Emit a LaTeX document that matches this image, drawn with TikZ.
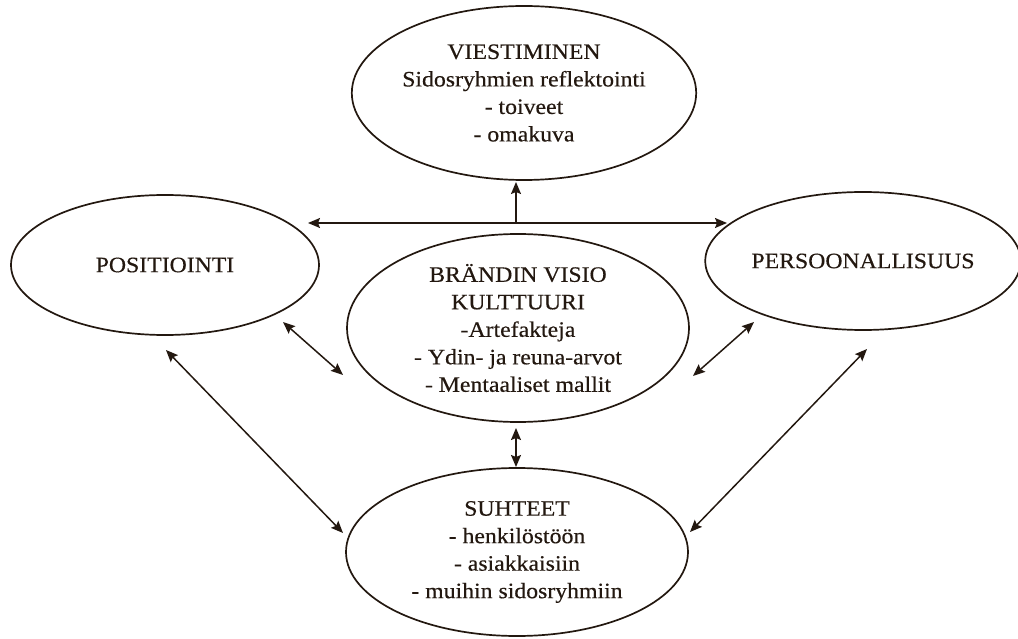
\documentclass[tikz,border=0pt]{standalone}
\usepackage{fontspec}
\setmainfont{Liberation Serif}[FakeStretch=1.08,FakeBold=0.4]
\usetikzlibrary{shapes.geometric,arrows.meta}
\definecolor{ink}{RGB}{35,24,16}

\begin{document}
\begin{tikzpicture}[x=1pt,y=-1pt,
  bubble/.style={draw=ink,line width=1.7pt,ellipse,inner sep=0pt,
    text=ink,font=\fontsize{22}{27.5}\selectfont,align=center},
  link/.style={draw=ink,line width=1.5pt,{Stealth[length=12pt,width=10pt,inset=2pt]}-{Stealth[length=12pt,width=10pt,inset=2pt]}},
  uplink/.style={draw=ink,line width=1.5pt,-{Stealth[length=12pt,width=10pt,inset=2pt]}},
]
\useasboundingbox (0,0) rectangle (1018,639);

% ellipses
\node[bubble,minimum width=328pt,minimum height=174pt] (vies) at (524,93)
  {VIESTIMINEN\\Sidosryhmien reflektointi\\- toiveet\\- omakuva};
\node[bubble,minimum width=308pt,minimum height=140pt] (pos) at (165,265)
  {POSITIOINTI};
\node[bubble,minimum width=296pt,minimum height=138pt] (pers) at (863,261)
  {PERSOONALLISUUS};
\node[bubble,minimum width=342pt,minimum height=188pt] (core) at (518,328)
  {BRÄNDIN VISIO\\KULTTUURI\\-Artefakteja\\- Ydin- ja reuna-arvot\\- Mentaaliset mallit};
\node[bubble,minimum width=342pt,minimum height=168pt] (suht) at (517,552)
  {SUHTEET\\- henkilöstöön\\- asiakkaisiin\\- muihin sidosryhmiin};

% arrow end points
\coordinate (hl) at (308,223);
\coordinate (hr) at (727,223);
\coordinate (hm) at (516,223);
\coordinate (vt) at (516,182);
\coordinate (pos-a) at (283,322);
\coordinate (core-a) at (343,375);
\coordinate (pos-b) at (166,350);
\coordinate (suht-a) at (343,533);
\coordinate (core-b) at (693,376);
\coordinate (pers-a) at (754,322);
\coordinate (suht-b) at (690,532);
\coordinate (pers-b) at (867,349);
\coordinate (core-c) at (516,428);
\coordinate (suht-c) at (516,467);

% connectors
\draw[link] (hl) -- (hr);
\draw[uplink] (hm) -- (vt);
\draw[link] (pos-a) -- (core-a);
\draw[link] (pos-b) -- (suht-a);
\draw[link] (core-b) -- (pers-a);
\draw[link] (suht-b) -- (pers-b);
\draw[link] (core-c) -- (suht-c);
\end{tikzpicture}
\end{document}
